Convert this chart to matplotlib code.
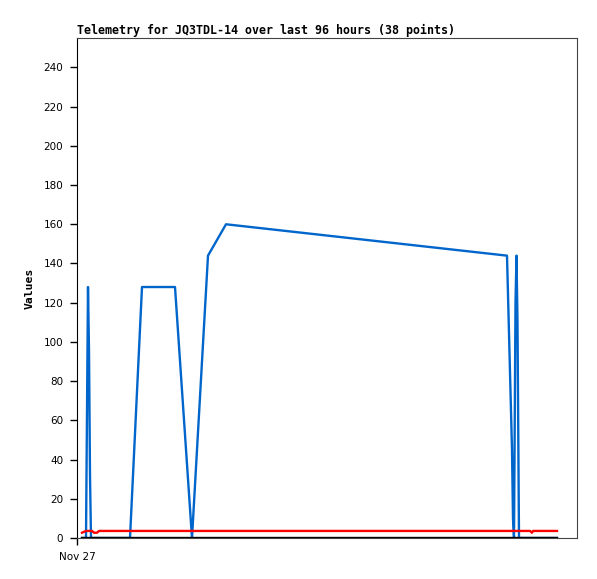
import matplotlib
matplotlib.use("Agg")
import matplotlib.pyplot as plt

# hours since Nov 27 00:00
blue_x = [1.0, 1.8, 2.0, 2.2, 2.4, 2.6, 2.8, 10.6, 13.0, 19.6, 23.0, 26.2, 29.8,
          86.0, 87.0, 87.2, 87.4, 87.7, 87.9, 88.1, 88.3, 88.4, 96.0]
blue_y = [0, 0, 64, 128, 96, 32, 0, 0, 128, 128, 0, 144, 160,
          144, 45, 10, 0, 120, 144, 110, 36, 0, 0]

red_x = [1.0, 1.8, 3.0, 3.4, 4.0, 4.4, 90.6, 91.0, 91.2, 96.0]
red_y = [2.7, 3.6, 3.6, 2.7, 2.7, 3.6, 3.6, 2.7, 3.6, 3.6]

black_x = [1.0, 96.0]
black_y = [0, 0]

xticks = [0]
xticklabels = ["Nov 27"]
yticks = list(range(0, 241, 20))

fig = plt.figure(figsize=(5.97, 5.79), dpi=100)
ax = fig.add_axes([77 / 597, 41 / 579, 500 / 597, 500 / 579])

ax.plot(blue_x, blue_y, color="#0066cc", lw=1.7)
ax.plot(red_x, red_y, color="#ff0000", lw=1.7)
ax.plot(black_x, black_y, color="#000000", lw=1.7)

ax.set_xlim(0, 100)
ax.set_ylim(0, 255)
ax.set_xticks(xticks)
ax.set_xticklabels(xticklabels)
ax.set_yticks(yticks)
ax.tick_params(direction="out", length=5, width=1, labelsize=7.5, pad=5)

for side in ["top", "right", "bottom"]:
    ax.spines[side].set_color("#444444")
ax.spines["left"].set_color("black")

ax.set_ylabel("Values", fontsize=8.2, fontweight="bold",
              family="DejaVu Sans Mono", labelpad=6)
ax.set_title("Telemetry for JQ3TDL-14 over last 96 hours (38 points)",
             loc="left", fontsize=8.35, fontweight="bold",
             family="DejaVu Sans Mono", pad=3)

fig.savefig("out.png", dpi=100)
